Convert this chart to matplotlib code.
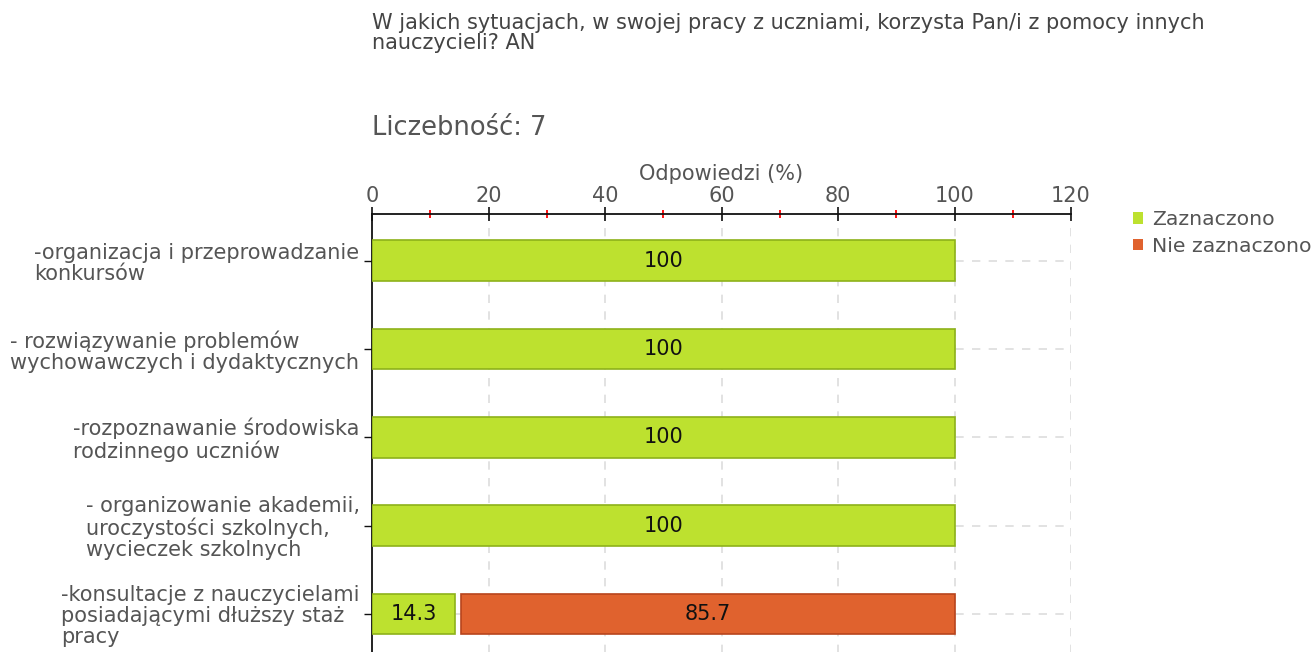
import matplotlib
matplotlib.use("Agg")
import matplotlib.pyplot as plt
from matplotlib.ticker import MultipleLocator
import numpy as np

plt.rcParams['font.family'] = ['DejaVu Sans']

title = "W jakich sytuacjach, w swojej pracy z uczniami, korzysta Pan/i z pomocy innych\nnauczycieli? AN"
subtitle = "Liczebność: 7"
xlabel = "Odpowiedzi (%)"
categories = [
    "-organizacja i przeprowadzanie\nkonkursów",
    "- rozwiązywanie problemów\nwychowawczych i dydaktycznych",
    "-rozpoznawanie środowiska\nrodzinnego uczniów",
    "- organizowanie akademii,\nuroczystości szkolnych,\nwycieczek szkolnych",
    "-konsultacje z nauczycielami\nposiadającymi dłuższy staż\npracy",
]
series_names = ["Zaznaczono", "Nie zaznaczono"]
zaznaczono = [100, 100, 100, 100, 14.3]
nie_zaznaczono = [0, 0, 0, 0, 85.7]
xticks = [0, 20, 40, 60, 80, 100, 120]

face = ["#BDE12F", "#E0622E"]
edge = ["#8DB21A", "#B8441C"]
text_gray = "#555555"
GAP = 0.9  # visual gap between stacked segments (style)

fig = plt.figure(figsize=(13.15, 6.52), dpi=100)
ax = fig.add_axes([372/1315, 1 - 658/652, (1071-372)/1315, (658-214)/652])

y = np.arange(len(categories))
h = 0.46
z = np.array(zaznaczono, dtype=float)
n = np.array(nie_zaznaczono, dtype=float)
ax.barh(y, z, height=h, color=face[0], edgecolor=edge[0], linewidth=1.2,
        label=series_names[0], zorder=3)
mask = n > 0
ax.barh(y[mask], n[mask] - GAP, left=z[mask] + GAP,
        height=h, color=face[1], edgecolor=edge[1], linewidth=1.2,
        label=series_names[1], zorder=3)
for i in range(len(categories)):
    if z[i] > 0:
        ax.text(z[i] / 2, y[i], f"{z[i]:g}", ha="center", va="center", fontsize=15,
                color="#111111", zorder=4)
    if n[i] > 0:
        ax.text(z[i] + GAP + (n[i] - GAP) / 2, y[i], f"{n[i]:g}", ha="center",
                va="center", fontsize=15, color="#111111", zorder=4)

ax.set_xlim(0, 120)
ax.set_ylim(len(categories) - 0.5, -0.53)
ax.xaxis.tick_top()
ax.xaxis.set_label_position("top")
ax.set_xticks(xticks)
ax.xaxis.set_minor_locator(MultipleLocator(10))
ax.tick_params(axis="x", which="major", direction="inout", length=10, width=1.2,
               colors="#111111", labelcolor=text_gray, labelsize=15, pad=1)
ax.tick_params(axis="x", which="minor", direction="inout", length=6, width=1.3,
               color="#ff0000")
ax.set_xlabel(xlabel, fontsize=15, color=text_gray, labelpad=4)

ax.set_yticks(y)
ax.set_yticklabels(categories, fontsize=15, color=text_gray, ha="right",
                   multialignment="left", linespacing=1.05)
ax.tick_params(axis="y", direction="out", length=6, width=1, colors="#111111",
               labelcolor=text_gray, pad=3)
for lbl in ax.get_yticklabels():
    lbl.set_multialignment("left")

for s in ["right", "bottom"]:
    ax.spines[s].set_visible(False)
for s in ["top", "left"]:
    ax.spines[s].set_linewidth(1.3)
    ax.spines[s].set_color("#111111")

for xv in xticks[1:]:
    ax.axvline(xv, color="#dddddd", lw=1.2, ls=(0, (5, 5)), zorder=1)
for yi in y:
    ax.axhline(yi, color="#dddddd", lw=1.2, ls=(0, (5, 5)), zorder=1)

fig.text(372/1315, 1 - 13/652, title, ha="left", va="top", fontsize=15,
         color="#444444", linespacing=0.98)
fig.text(372/1315, 1 - 128/652, subtitle, ha="left", va="center", fontsize=18.5,
         color=text_gray)

leg = fig.legend(handles=[
    plt.Rectangle((0, 0), 1, 1, facecolor=face[0], edgecolor="none"),
    plt.Rectangle((0, 0), 1, 1, facecolor=face[1], edgecolor="none")],
    labels=series_names, loc="upper left", bbox_to_anchor=(1133/1315, 1 - 210/652),
    frameon=False, fontsize=14.7, handlelength=0.5, handleheight=0.5,
    handletextpad=0.45, labelspacing=0.38, borderaxespad=0, borderpad=0)
for t in leg.get_texts():
    t.set_color(text_gray)

fig.savefig("out.png", dpi=100)
